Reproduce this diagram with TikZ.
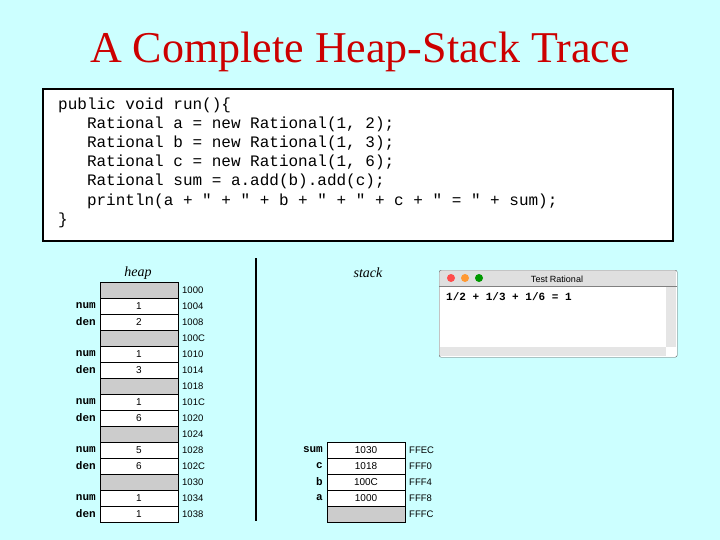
\documentclass[tikz,border=0pt]{standalone}
\usepackage{fontspec}
\setmainfont{Liberation Serif}
\setsansfont{Liberation Sans}
\setmonofont{Liberation Mono}
\definecolor{bgc}{RGB}{204,255,255}
\begin{document}
\begin{tikzpicture}[x=1pt,y=-1pt,
 cell/.style={draw,fill=white,minimum width=78pt,minimum height=16pt,inner sep=0pt,font=\sffamily\fontsize{10}{11}\selectfont},
 shaded/.style={cell,fill=gray!40},
 addr/.style={anchor=west,font=\sffamily\fontsize{9.5}{10}\selectfont,inner sep=0pt},
 vlab/.style={anchor=east,font=\ttfamily\bfseries\fontsize{11}{12}\selectfont,inner sep=0pt},
 code/.style={anchor=west,font=\ttfamily\fontsize{16}{18}\selectfont,inner sep=0pt}]
\fill[bgc] (0,0) rectangle (720,540);
\useasboundingbox (0,0) rectangle (720,540);
\node[red!80!black,font=\fontsize{44}{48}\selectfont] (title) at (360,52) {A Complete Heap-Stack Trace};
\node[draw=black,line width=2pt,fill=white,minimum width=630pt,minimum height=152pt,anchor=north west] (codebox) at (42,88) {};
\foreach \t [count=\i from 0] in {{public void run()\{},{\ \ \ Rational a = new Rational(1, 2);},{\ \ \ Rational b = new Rational(1, 3);},{\ \ \ Rational c = new Rational(1, 6);},{\ \ \ Rational sum = a.add(b).add(c);},{\ \ \ println(a + " + " + b + " + " + c + " = " + sum);},{\}}}
  \node[code] (l\i) at (58,105+19.2*\i) {\t};
\node[font=\itshape\fontsize{14}{15}\selectfont] (heap) at (138,273) {heap};
\node[font=\itshape\fontsize{14}{15}\selectfont] (stack) at (368,273) {stack};
\draw[line width=2.5pt] (256,258) -- (256,521);
\foreach \v/\a/\l [count=\i from 0] in {/1000/,1/1004/num,2/1008/den,/100C/,1/1010/num,3/1014/den,/1018/,1/101C/num,6/1020/den,/1024/,5/1028/num,6/102C/den,/1030/,1/1034/num,1/1038/den}{
  \ifx\v\empty \node[shaded] (h\i) at (139,290+16*\i) {}; \else \node[cell] (h\i) at (139,290+16*\i) {\v}; \fi
  \node[addr] (ha\i) at (182,290+16*\i) {\a};
  \node[vlab] (hl\i) at (96,290+16*\i) {\l};
}
\foreach \v/\a/\l [count=\i from 0] in {1030/FFEC/sum,1018/FFF0/c,100C/FFF4/b,1000/FFF8/a,/FFFC/}{
  \ifx\v\empty \node[shaded] (s\i) at (366,450+16*\i) {}; \else \node[cell] (s\i) at (366,450+16*\i) {\v}; \fi
  \node[addr] (sa\i) at (409,450+16*\i) {\a};
  \node[vlab] (sl\i) at (323,450+16*\i) {\l};
}
% window
\node[draw=gray!70!black,fill=white,rounded corners=2pt,minimum width=238pt,minimum height=87pt,anchor=north west,inner sep=0pt] (win) at (439,270) {};
\fill[gray!25] (440,271) rectangle (676,286);
\draw[gray] (439,286) -- (677,286);
\fill[gray!20] (666,287) rectangle (676,347);
\fill[gray!20] (440,347) rectangle (666,356);
\fill[red!70] (451,278) circle (4);
\fill[orange!80] (465,278) circle (4);
\fill[green!60!black] (479,278) circle (4);
\node[font=\sffamily\fontsize{9}{10}\selectfont] (wt) at (557,279) {Test Rational};
\node[anchor=west,inner sep=0pt,font=\ttfamily\bfseries\fontsize{11}{12}\selectfont] (out) at (446,297) {1/2 + 1/3 + 1/6 = 1};
\end{tikzpicture}
\end{document}
